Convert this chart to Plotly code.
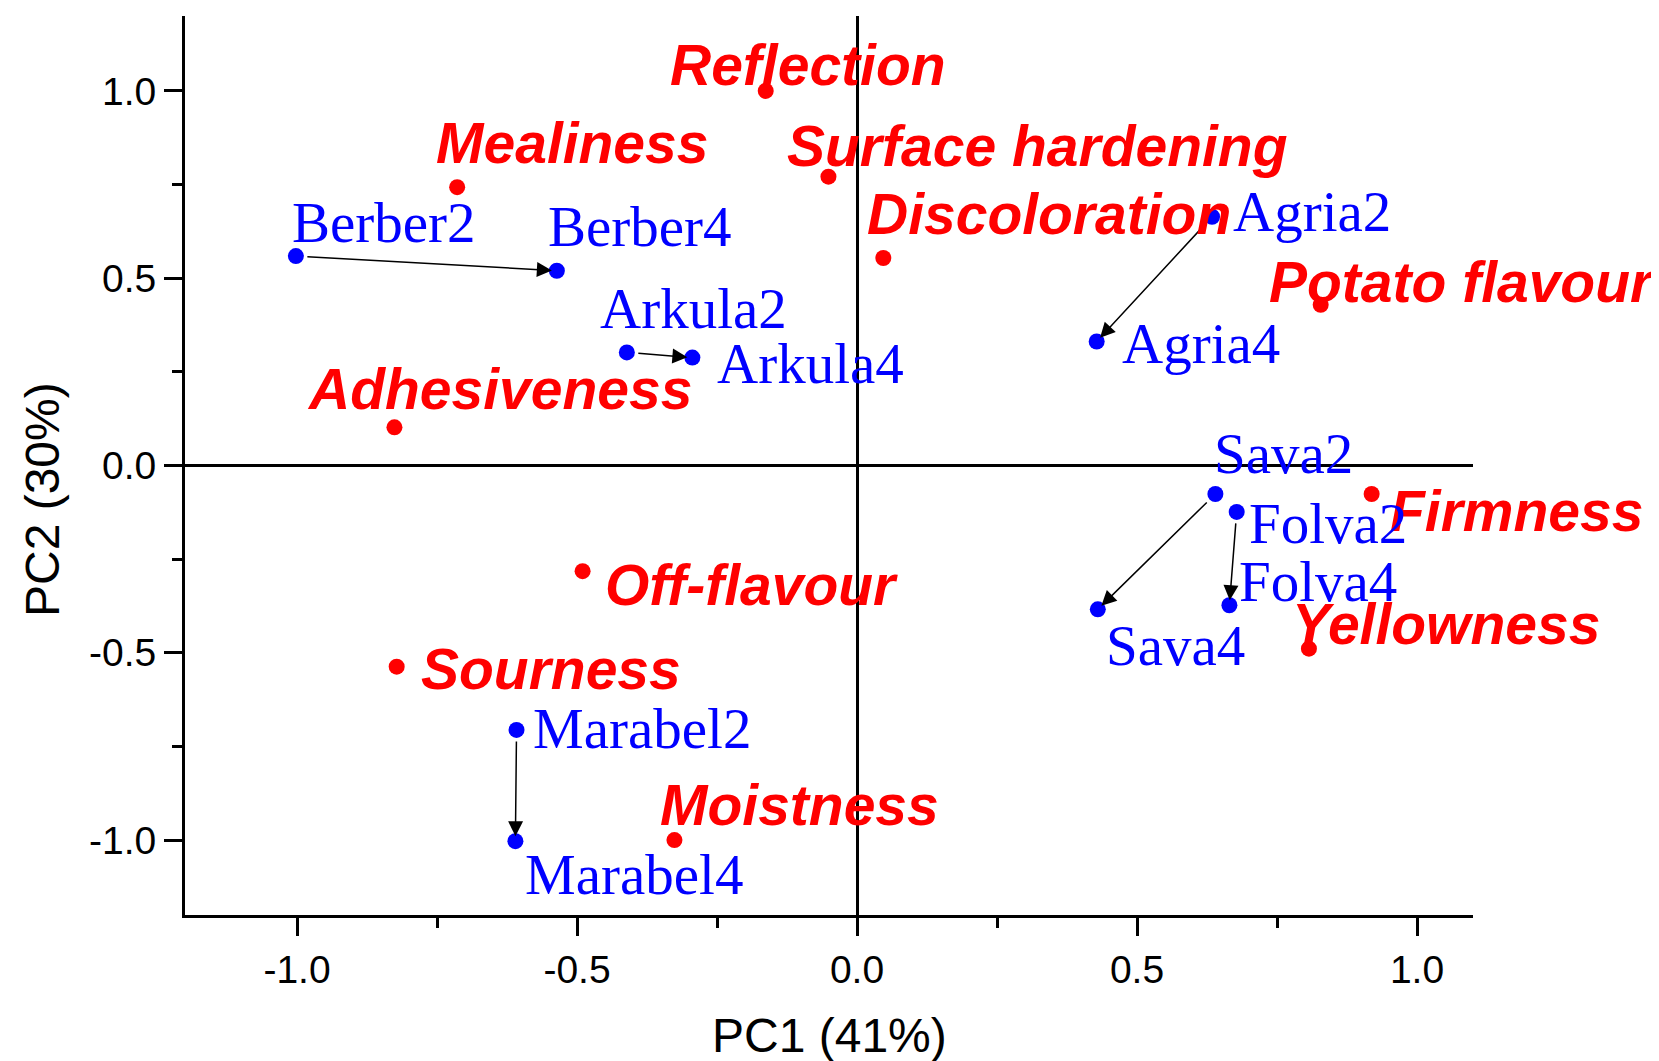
import plotly.graph_objects as go

# Sensory attributes (red)
attr_names = ["Reflection", "Mealiness", "Surface hardening", "Discoloration", "Potato flavour",
              "Adhesiveness", "Firmness", "Off-flavour", "Sourness", "Yellowness", "Moistness"]
attr_pc1 = [-0.163, -0.714, -0.051, 0.047, 0.828, -0.826, 0.919, -0.490, -0.822, 0.807, -0.326]
attr_pc2 = [1.000, 0.743, 0.771, 0.554, 0.429, 0.102, -0.076, -0.282, -0.537, -0.489, -1.000]

# Samples (blue)
samp_names = ["Berber2", "Berber4", "Arkula2", "Arkula4", "Agria2", "Agria4",
              "Sava2", "Sava4", "Folva2", "Folva4", "Marabel2", "Marabel4"]
samp_pc1 = [-1.002, -0.536, -0.411, -0.294, 0.634, 0.428, 0.640, 0.430, 0.678, 0.665, -0.608, -0.610]
samp_pc2 = [0.559, 0.520, 0.302, 0.288, 0.664, 0.331, -0.076, -0.384, -0.124, -0.373, -0.706, -1.003]

# storage transitions (from -> to)
transitions = [("Berber2", "Berber4"), ("Arkula2", "Arkula4"), ("Agria2", "Agria4"),
               ("Sava2", "Sava4"), ("Folva2", "Folva4"), ("Marabel2", "Marabel4")]

x_ticks = [-1.0, -0.5, 0.0, 0.5, 1.0]
x_tick_labels = ["-1.0", "-0.5", "0.0", "0.5", "1.0"]
y_ticks = [-1.0, -0.5, 0.0, 0.5, 1.0]
y_tick_labels = ["-1.0", "-0.5", "0.0", "0.5", "1.0"]

# label offsets (pixels, relative to marker: left edge, vertical centre)
S = 1.058
attr_off = {"Reflection": (-92, -23), "Mealiness": (-22, -40), "Surface hardening": (-41, -27),
            "Discoloration": (-17, -40), "Potato flavour": (-51, -20), "Adhesiveness": (-85, -34),
            "Firmness": (15, 18), "Off-flavour": (19, 15), "Sourness": (21, 4),
            "Yellowness": (-18, -21), "Moistness": (-16, -31)}
samp_off = {"Berber2": (-6, -29), "Berber4": (-10, -39), "Arkula2": (-27, -39), "Arkula4": (21, 8),
            "Agria2": (18, -2), "Agria4": (22, 5), "Sava2": (-3, -35), "Sava4": (6, 37),
            "Folva2": (10, 14), "Folva4": (7, -20), "Marabel2": (14, 1), "Marabel4": (7, 34)}

fig = go.Figure()
fig.add_trace(go.Scatter(x=samp_pc1, y=samp_pc2, mode="markers",
                         marker=dict(color="#0000ff", size=16), hoverinfo="text", text=samp_names))
fig.add_trace(go.Scatter(x=attr_pc1, y=attr_pc2, mode="markers",
                         marker=dict(color="#ff0000", size=16), hoverinfo="text", text=attr_names))

annotations = []
idx = {n: i for i, n in enumerate(samp_names)}
for a, b in transitions:
    i, j = idx[a], idx[b]
    annotations.append(dict(x=samp_pc1[j], y=samp_pc2[j], ax=samp_pc1[i], ay=samp_pc2[i],
                            xref="x", yref="y", axref="x", ayref="y", text="",
                            showarrow=True, arrowhead=2, arrowsize=2.0, arrowwidth=1.5,
                            arrowcolor="black", standoff=5, startstandoff=10))

for n, x, y in zip(attr_names, attr_pc1, attr_pc2):
    dx, dy = attr_off[n]
    annotations.append(dict(x=x, y=y, xref="x", yref="y", text="<b><i>%s</i></b>" % n,
                            showarrow=False, xanchor="left", yanchor="middle",
                            xshift=dx * S, yshift=-dy * S + 2,
                            font=dict(family="Liberation Sans, Arial", size=57, color="#ff0000")))
for n, x, y in zip(samp_names, samp_pc1, samp_pc2):
    dx, dy = samp_off[n]
    annotations.append(dict(x=x, y=y, xref="x", yref="y", text=n,
                            showarrow=False, xanchor="left", yanchor="middle",
                            xshift=dx * S, yshift=-dy * S + 3,
                            font=dict(family="Liberation Serif, Times New Roman", size=57, color="#0000ff")))

# axis titles
annotations.append(dict(x=0.5, y=-0.1335, xref="paper", yref="paper", text="PC1 (41%)",
                        showarrow=False, xanchor="center", yanchor="middle",
                        font=dict(family="Liberation Sans, Arial", size=48, color="black")))
annotations.append(dict(x=-0.111, y=0.4616, xref="paper", yref="paper", text="PC2 (30%)",
                        showarrow=False, xanchor="center", yanchor="middle", textangle=-90,
                        font=dict(family="Liberation Sans, Arial", size=48, color="black")))

axis_common = dict(showgrid=False, showline=True, linecolor="black", linewidth=3,
                   ticks="outside", ticklen=18, tickwidth=3, tickcolor="black",
                   zeroline=True, zerolinecolor="black", zerolinewidth=3,
                   tickfont=dict(family="Liberation Sans, Arial", size=39, color="black"),
                   mirror=False,
                   minor=dict(ticks="outside", ticklen=10, tickwidth=3, tickcolor="black", dtick=0.25))

fig.update_layout(
    width=1651, height=1053,
    margin=dict(l=177, r=186, t=8, b=146),
    plot_bgcolor="white", paper_bgcolor="white",
    showlegend=False,
    xaxis=dict(range=[-1.2, 1.1], tickvals=x_ticks, ticktext=x_tick_labels, **axis_common),
    yaxis=dict(range=[-1.2, 1.2], tickvals=y_ticks, ticktext=y_tick_labels, **axis_common),
    annotations=annotations,
)
fig.write_html("out.html")
